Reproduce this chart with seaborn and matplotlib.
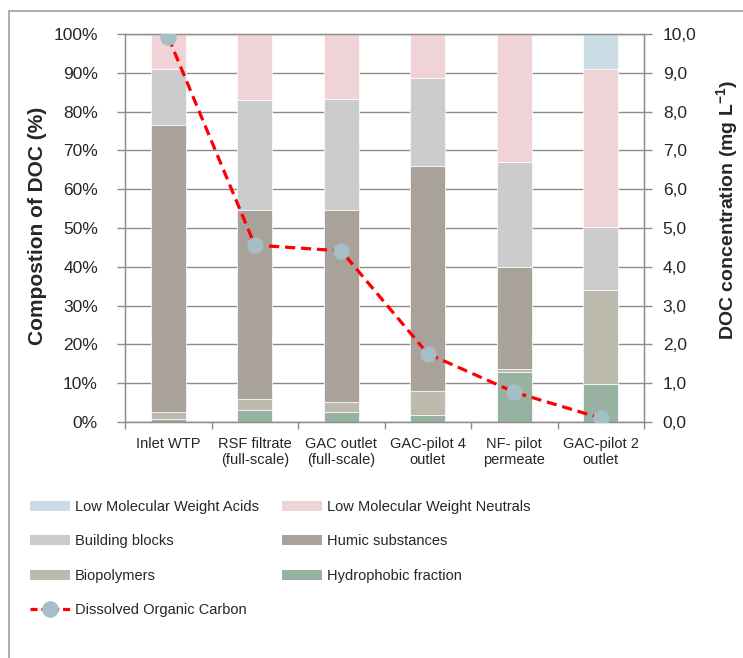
import numpy as np
import pandas as pd
import matplotlib
matplotlib.use("Agg")
import matplotlib.pyplot as plt
import seaborn as sns
from matplotlib.patches import Rectangle, Patch
from matplotlib.lines import Line2D
from matplotlib.ticker import FuncFormatter, FixedLocator, MultipleLocator

# ---------------- data ----------------
categories = ["Inlet WTP", "RSF filtrate\n(full-scale)", "GAC outlet\n(full-scale)",
              "GAC-pilot 4\noutlet", "NF- pilot\npermeate", "GAC-pilot 2\noutlet"]
hydrophobic = [0.9, 3.0, 2.5, 1.7, 13.0, 9.7]
biopolymers = [1.8, 3.0, 2.7, 6.2, 0.7, 24.4]
humic = [73.9, 48.7, 49.5, 58.2, 26.3, 0.0]
building_blocks = [14.5, 28.3, 28.6, 22.6, 26.9, 16.2]
lmw_neutrals = [8.9, 17.0, 16.7, 11.3, 33.1, 40.6]
lmw_acids = [0.0, 0.0, 0.0, 0.0, 0.0, 9.1]
doc = [9.92, 4.56, 4.41, 1.76, 0.77, 0.10]

layer_names = ["Hydrophobic fraction", "Biopolymers", "Humic substances",
               "Building blocks", "Low Molecular Weight Neutrals", "Low Molecular Weight Acids"]
layer_values = [hydrophobic, biopolymers, humic, building_blocks, lmw_neutrals, lmw_acids]
layer_colors = ["#97b2a1", "#bcb9ad", "#a9a29b", "#cccccc", "#efd3d7", "#cadde4"]

# ---------------- style ----------------
sns.set_style("white")
plt.rcParams["font.family"] = ["Liberation Sans", "DejaVu Sans"]
plt.rcParams["mathtext.fontset"] = "custom"
plt.rcParams["mathtext.rm"] = "Liberation Sans"
plt.rcParams["mathtext.bf"] = "Liberation Sans:bold"

W, H = 743, 658
fig = plt.figure(figsize=(W / 100, H / 100), dpi=100)
ax = fig.add_axes([125 / W, 1 - 422 / H, (644 - 125) / W, (422 - 34) / H])

grid_col = "#8c8c8c"

bottom = np.zeros(len(categories))
for name, vals, col in zip(layer_names, layer_values, layer_colors):
    sns.barplot(x=categories, y=vals, bottom=bottom, color=col, saturation=1,
                width=0.4, errorbar=None, edgecolor="white", linewidth=0.5,
                ax=ax, zorder=2)
    bottom = bottom + np.array(vals)

ax.set_xlim(-0.5, len(categories) - 0.5)
ax.set_ylim(0, 100)
ax.yaxis.set_major_locator(MultipleLocator(10))
ax.yaxis.set_major_formatter(FuncFormatter(lambda v, p: f"{v:.0f}%"))
ax.yaxis.grid(True, color=grid_col, linewidth=1)
ax.xaxis.grid(False)
ax.set_axisbelow(True)
ax.tick_params(axis="y", which="major", direction="out", length=6, width=1,
               color=grid_col, labelsize=12.5, pad=13.5, left=True)
ax.tick_params(axis="x", which="major", length=0, labelsize=10.5, pad=11)
ax.xaxis.set_minor_locator(FixedLocator(np.arange(-0.5, len(categories), 1.0)))
ax.tick_params(axis="x", which="minor", direction="out", length=5, width=1,
               color=grid_col, bottom=True)
for s in ["left", "bottom", "top", "right"]:
    ax.spines[s].set_color(grid_col)
    ax.spines[s].set_linewidth(1)
ax.set_xlabel("")
ax.set_ylabel("Compostion of DOC (%)", fontsize=15, fontweight="bold")
ax.yaxis.set_label_coords((47 - 125) / 519, (422 - 226) / 388)

# ---------------- DOC line ----------------
ax2 = ax.twinx()
sns.lineplot(x=np.arange(len(categories)), y=doc, ax=ax2, color="#ff0000",
             linewidth=2.3, linestyle=(0, (3.2, 1.8)), marker="o", markersize=11,
             markerfacecolor="#a6bec7", markeredgecolor="#a6bec7", zorder=5, sort=False)
ax2.set_ylim(0, 10)
ax2.set_xlim(-0.5, len(categories) - 0.5)
ax2.yaxis.set_major_locator(MultipleLocator(1))
ax2.yaxis.set_major_formatter(FuncFormatter(lambda v, p: f"{v:.1f}".replace(".", ",")))
ax2.tick_params(axis="y", direction="out", length=6, width=1, color=grid_col,
                labelsize=12.5, pad=7.5, right=True)
for s in ["left", "bottom", "top", "right"]:
    ax2.spines[s].set_color(grid_col)
ax2.set_ylabel(r"DOC concentration (mg L$^{\mathbf{-1}}$)", fontsize=14,
               fontweight="bold")
ax2.yaxis.set_label_coords((714 - 125) / 519, (422 - 210) / 388)
ax2.grid(False)

# ---------------- legend ----------------
handles = {n: Patch(facecolor=c, edgecolor="none") for n, c in zip(layer_names, layer_colors)}
doc_handle = Line2D([], [], color="#ff0000", linewidth=2.3, linestyle=(0, (2.2, 1.2)),
                    marker="o", markersize=11, markerfacecolor="#a6bec7",
                    markeredgecolor="#a6bec7")
order = ["Low Molecular Weight Acids", "Building blocks", "Biopolymers", None,
         "Low Molecular Weight Neutrals", "Humic substances", "Hydrophobic fraction"]
h_list, l_list = [], []
for n in order:
    if n is None:
        h_list.append(doc_handle)
        l_list.append("Dissolved Organic Carbon")
    else:
        h_list.append(handles[n])
        l_list.append(n)
fig.legend(h_list, l_list, ncol=2, loc="upper left",
           bbox_to_anchor=(30 / W, 1 - 500 / H), frameon=False, fontsize=10.5,
           handlelength=2.75, handleheight=0.7, handletextpad=0.35,
           columnspacing=1.55, labelspacing=1.4, borderpad=0, borderaxespad=0)

# ---------------- outer frame ----------------
fig.patches.append(Rectangle((9 / W, -0.1), 1.2, 1.1 - 11 / H, transform=fig.transFigure,
                             fill=False, edgecolor="#a0a0a0", linewidth=1.2))

fig.savefig("out.png", dpi=100)
